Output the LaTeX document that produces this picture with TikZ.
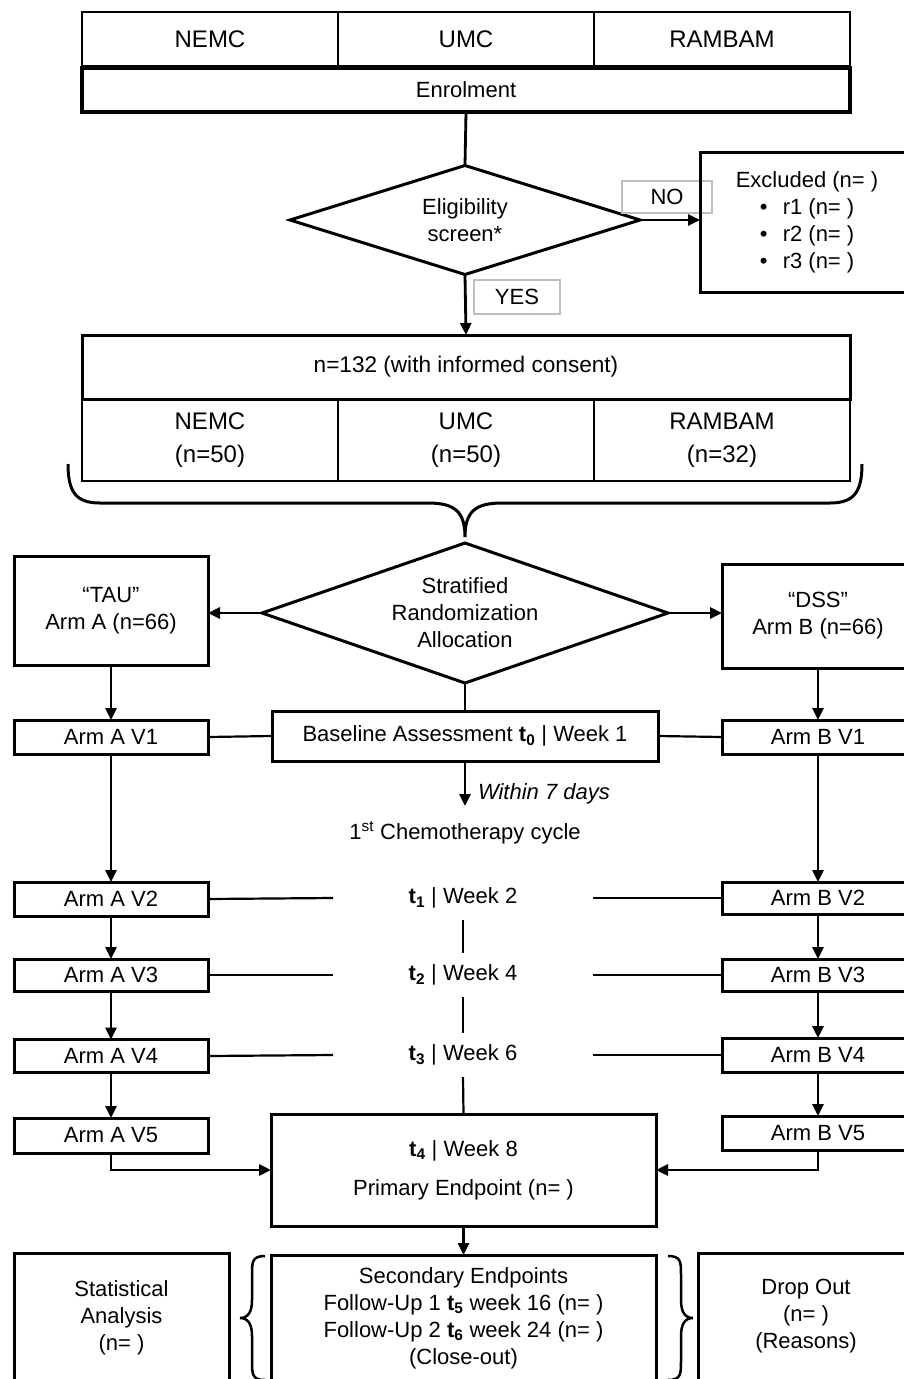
\documentclass[tikz,border=0pt]{standalone}
\usepackage{fontspec}
\setmainfont{Liberation Sans}
\usetikzlibrary{shapes.geometric,arrows.meta}
\begin{document}
\begin{tikzpicture}[x=1pt,y=-1pt,
  font=\fontsize{22}{27}\selectfont,
  every node/.style={inner sep=0pt, outer sep=0pt, align=center},
  bx/.style={draw, line width=3pt, rectangle},
  thinbx/.style={draw, line width=1.8pt, rectangle},
  site/.style={font=\fontsize{24}{27}\selectfont},
  lbl/.style={draw=black!25, line width=1.2pt, rectangle},
  conn/.style={line width=2.8pt},
  hconn/.style={line width=2.2pt},
  arr/.style={line width=2.8pt, -{Triangle[length=12pt,width=11pt]}},
  dia/.style={draw, diamond, line width=3pt, inner sep=0pt},
]
\useasboundingbox (0,0) rectangle (903,1379);

% top sites and enrolment
\node[thinbx, site, minimum width=256pt, minimum height=54pt] (s1) at (210,39) {NEMC};
\node[thinbx, site, minimum width=256pt, minimum height=54pt] (s2) at (466,39) {UMC};
\node[thinbx, site, minimum width=256pt, minimum height=54pt] (s3) at (722,39) {RAMBAM};
\node[bx, line width=3.5pt, minimum width=768pt, minimum height=44pt] (enrol) at (466,90) {Enrolment};

% eligibility
\node[dia, minimum width=350pt, minimum height=109pt, shape aspect=3.2] (elig) at (465,220) {Eligibility\\screen*};
\node[lbl, minimum width=90pt, minimum height=32pt] (no) at (667,197) {NO};
\node[bx, minimum width=214pt, minimum height=140pt, align=left] (excl) at (807,222)
  {Excluded (n= )\\\hspace*{24pt}\makebox[23pt][l]{•}r1 (n= )\\\hspace*{24pt}\makebox[23pt][l]{•}r2 (n= )\\\hspace*{24pt}\makebox[23pt][l]{•}r3 (n= )};
\node[lbl, minimum width=86pt, minimum height=34pt] (yes) at (517,297) {YES};

\draw[conn] (enrol.south) -- (elig.north);
\draw[arr] (elig.east) -- (elig.east -| excl.west);

% consent
\node[bx, font=\fontsize{22.6}{27}\selectfont, minimum width=768pt, minimum height=64pt] (cons) at (466,367) {n=132 (with informed consent)};
\draw[arr] (elig.south) -- (cons.north);
\node[thinbx, site, minimum width=256pt, minimum height=82pt] (c1) at (210,440) {NEMC\\[6pt](n=50)};
\node[thinbx, site, minimum width=256pt, minimum height=82pt] (c2) at (466,440) {UMC\\[6pt](n=50)};
\node[thinbx, site, minimum width=256pt, minimum height=82pt] (c3) at (722,440) {RAMBAM\\[6pt](n=32)};

% big brace
\draw[line width=3pt] (68,464) .. controls (68,492) and (76,503) .. (100,503) -- (428,503)
  .. controls (455,503) and (465,512) .. (465,537)
  .. controls (465,512) and (475,503) .. (502,503) -- (830,503)
  .. controls (854,503) and (862,492) .. (862,464);

% randomization
\node[dia, minimum width=406pt, minimum height=140pt, shape aspect=2.9] (strat) at (465,613) {Stratified\\Randomization\\Allocation};
\node[bx, minimum width=194pt, minimum height=109pt] (tau) at (111,610.5) {“TAU”\\Arm A (n=66)};
\node[bx, minimum width=192pt, minimum height=104pt] (dss) at (818,616) {“DSS”\\Arm B (n=66)};
\draw[arr] (strat.west) -- (strat.west -| tau.east);
\draw[arr] (strat.east) -- (strat.east -| dss.west);

% baseline
\node[bx, minimum width=386pt, minimum height=50pt] (base) at (465,736) {Baseline Assessment \textbf{t\textsubscript{0}} | Week 1};
\node[bx, minimum width=194pt, minimum height=34pt] (a1) at (111,737) {Arm A V1};
\node[bx, minimum width=192pt, minimum height=34pt] (b1) at (818,737) {Arm B V1};
\draw[conn] (strat.south) -- (base.north);
\draw[arr] (tau.south) -- (a1.north);
\draw[arr] (dss.south) -- (b1.north);
\draw[hconn] (a1.east) -- (base.west);
\draw[hconn] (base.east) -- (b1.west);

\node[minimum width=240pt, minimum height=54pt] (chemo) at (465,833) {1\textsuperscript{st} Chemotherapy cycle};
\draw[arr] (base.south) -- (chemo.north);
\node[anchor=west, font=\fontsize{22}{27}\selectfont\itshape] (w7) at (478,794) {Within 7 days};

% visits
\node[bx, minimum width=194pt, minimum height=34pt] (a2) at (111,899) {Arm A V2};
\node[bx, minimum width=194pt, minimum height=32pt] (a3) at (111,975) {Arm A V3};
\node[bx, minimum width=194pt, minimum height=33pt] (a4) at (111,1056) {Arm A V4};
\node[bx, minimum width=194pt, minimum height=35pt] (a5) at (111,1135.5) {Arm A V5};
\node[bx, minimum width=192pt, minimum height=32pt] (b2) at (818,898) {Arm B V2};
\node[bx, minimum width=192pt, minimum height=32pt] (b3) at (818,975) {Arm B V3};
\node[bx, minimum width=192pt, minimum height=34pt] (b4) at (818,1055) {Arm B V4};
\node[bx, minimum width=192pt, minimum height=34pt] (b5) at (818,1133) {Arm B V5};

\node[minimum width=260pt, minimum height=44pt] (t1) at (463,898) {\textbf{t\textsubscript{1}} | Week 2};
\node[minimum width=260pt, minimum height=44pt] (t2) at (463,975) {\textbf{t\textsubscript{2}} | Week 4};
\node[minimum width=260pt, minimum height=44pt] (t3) at (463,1055) {\textbf{t\textsubscript{3}} | Week 6};

\draw[arr] (a1.south) -- (a2.north);
\draw[arr] (a2.south) -- (a3.north);
\draw[arr] (a3.south) -- (a4.north);
\draw[arr] (a4.south) -- (a5.north);
\draw[arr] (b1.south) -- (b2.north);
\draw[arr] (b2.south) -- (b3.north);
\draw[arr] (b3.south) -- (b4.north);
\draw[arr] (b4.south) -- (b5.north);

\draw[hconn] (a2.east) -- (t1.west);
\draw[hconn] (t1.east) -- (b2.west);
\draw[hconn] (a3.east) -- (t2.west);
\draw[hconn] (t2.east) -- (b3.west);
\draw[hconn] (a4.east) -- (t3.west);
\draw[hconn] (t3.east) -- (b4.west);
\draw[hconn] (t1.south) -- (t2.north);
\draw[hconn] (t2.south) -- (t3.north);

% primary endpoint
\node[bx, minimum width=385pt, minimum height=112pt] (t4) at (463.5,1170) {\textbf{t\textsubscript{4}} | Week 8\\[12pt]Primary Endpoint (n= )};
\draw[hconn] (t3.south) -- (t4.north);
\draw[arr] (a5.south) |- (t4.west);
\draw[arr] (b5.south) |- (t4.east);

% bottom row
\node[bx, minimum width=385pt, minimum height=140pt] (sec) at (463.5,1325) {};
\node (sectxt) at (463.5,1318) {Secondary Endpoints\\Follow-Up 1 \textbf{t\textsubscript{5}} week 16 (n= )\\Follow-Up 2 \textbf{t\textsubscript{6}} week 24 (n= )\\(Close-out)};
\draw[arr] (t4.south) -- (sec.north);
\node[bx, minimum width=215pt, minimum height=144pt] (stat) at (121.5,1325) {};
\node (stattxt) at (121.5,1318) {Statistical\\Analysis\\(n= )};
\node[bx, minimum width=216pt, minimum height=144pt] (drop) at (806,1325) {};
\node (droptxt) at (806,1316) {Drop Out\\(n= )\\(Reasons)};

% small braces
\draw[line width=2.5pt] (265,1256) .. controls (252,1256) and (252,1262) .. (252,1275) -- (252,1300)
  .. controls (252,1312) and (248,1318) .. (240,1318)
  .. controls (248,1318) and (252,1324) .. (252,1336) -- (252,1361)
  .. controls (252,1374) and (252,1380) .. (265,1380);
\draw[line width=2.5pt] (668,1256) .. controls (681,1256) and (681,1262) .. (681,1275) -- (681,1300)
  .. controls (681,1312) and (685,1318) .. (693,1318)
  .. controls (685,1318) and (681,1324) .. (681,1336) -- (681,1361)
  .. controls (681,1374) and (681,1380) .. (668,1380);
\end{tikzpicture}
\end{document}
